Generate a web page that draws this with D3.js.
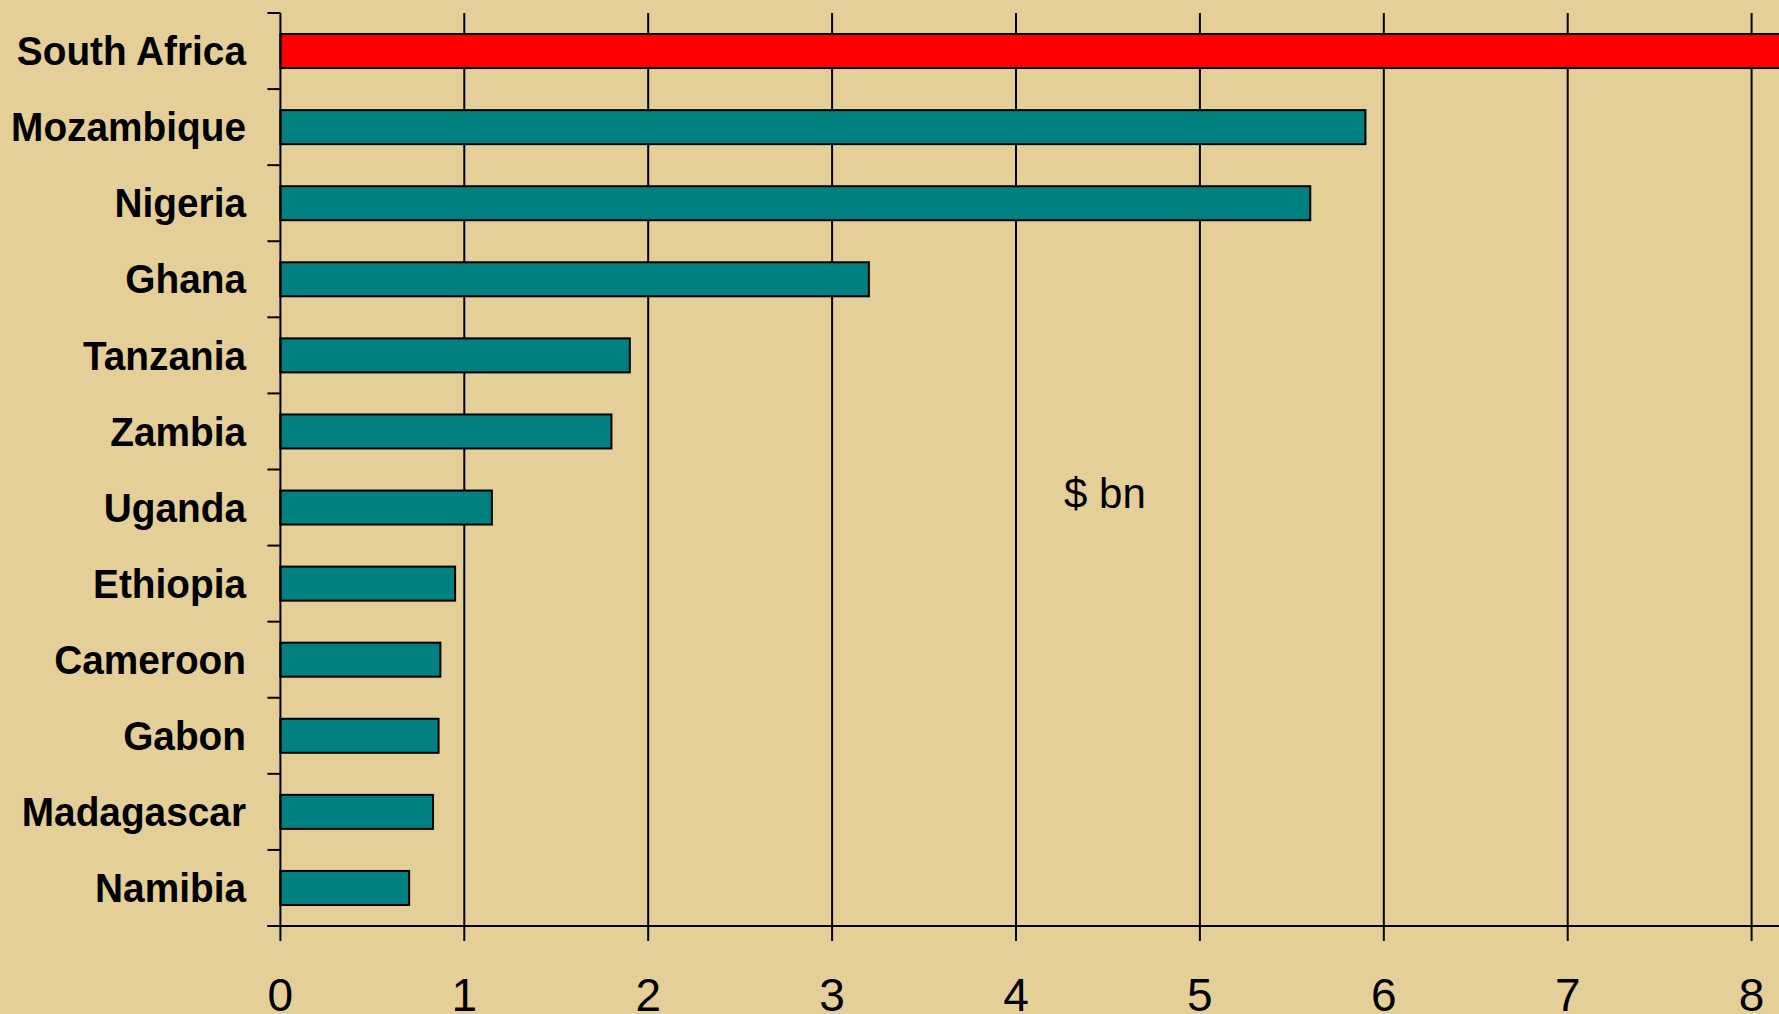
<!DOCTYPE html>
<html>
<head>
<meta charset="utf-8">
<script src="https://cdn.jsdelivr.net/npm/d3@7/dist/d3.min.js"></script>
<style>
  html, body { margin: 0; padding: 0; background: #E5CF99; overflow: hidden; }
  svg { display: block; }
</style>
</head>
<body>
<script>
// ---- data ----
const categories = ["South Africa", "Mozambique", "Nigeria", "Ghana", "Tanzania", "Zambia",
                    "Uganda", "Ethiopia", "Cameroon", "Gabon", "Madagascar", "Namibia"];
const values = [9.0, 5.9, 5.6, 3.2, 1.9, 1.8, 1.15, 0.95, 0.87, 0.86, 0.83, 0.70];
const highlight = ["South Africa"];
const tickValues = [0, 1, 2, 3, 4, 5, 6, 7, 8];
const unitLabel = "$ bn";

// ---- layout ----
const W = 1779, H = 1014;
const x0 = 280.4, unit = 183.9;
const topY = 13, bottomY = 926;

const svg = d3.select("body").append("svg").attr("width", W).attr("height", H);
svg.append("rect").attr("width", W).attr("height", H).attr("fill", "#E5CF99");

const x = d3.scaleLinear().domain([0, 9]).range([x0, x0 + 9 * unit]);
const pad = 0.553;
const y = d3.scaleBand().domain(categories).range([topY, bottomY])
  .paddingInner(pad).paddingOuter(pad / 2);

// gridlines (behind bars)
svg.append("g").selectAll("line").data(tickValues.filter(d => d > 0)).join("line")
  .attr("x1", d => x(d)).attr("x2", d => x(d))
  .attr("y1", topY).attr("y2", bottomY)
  .attr("stroke", "#000").attr("stroke-width", 2);

// bars
svg.append("g").selectAll("rect").data(categories).join("rect")
  .attr("x", x(0))
  .attr("y", d => y(d))
  .attr("width", (d, i) => x(values[i]) - x(0))
  .attr("height", y.bandwidth())
  .attr("fill", d => highlight.includes(d) ? "#FF0000" : "#008080")
  .attr("stroke", "#000").attr("stroke-width", 2);

// y axis line and boundary ticks
const gap = (y.step() - y.bandwidth()) / 2;
const bounds = categories.map(c => y(c) - gap).concat([y(categories[categories.length - 1]) + y.bandwidth() + gap]);
svg.append("line").attr("x1", x(0)).attr("x2", x(0)).attr("y1", topY).attr("y2", bottomY)
  .attr("stroke", "#000").attr("stroke-width", 2);
svg.append("g").selectAll("line").data(bounds).join("line")
  .attr("x1", x(0) - 13).attr("x2", x(0))
  .attr("y1", d => d).attr("y2", d => d)
  .attr("stroke", "#000").attr("stroke-width", 2);

// x axis
svg.append("line").attr("x1", x(0) - 13).attr("x2", W).attr("y1", bottomY).attr("y2", bottomY)
  .attr("stroke", "#000").attr("stroke-width", 2);
svg.append("g").selectAll("line").data(tickValues).join("line")
  .attr("x1", d => x(d)).attr("x2", d => x(d))
  .attr("y1", bottomY).attr("y2", bottomY + 15)
  .attr("stroke", "#000").attr("stroke-width", 2);
svg.append("g").selectAll("text").data(tickValues).join("text")
  .attr("x", d => x(d)).attr("y", 1010.5)
  .attr("text-anchor", "middle")
  .attr("font-family", "'Liberation Sans', Arial, sans-serif")
  .attr("font-size", 46)
  .attr("fill", "#000")
  .text(d => d);

// category labels
svg.append("g").selectAll("text").data(categories).join("text")
  .attr("transform", d => `translate(246,${y(d) + y.bandwidth() / 2 + 14.2}) scale(0.97,1)`)
  .attr("text-anchor", "end")
  .attr("font-family", "'Liberation Sans', Arial, sans-serif")
  .attr("font-weight", "bold")
  .attr("font-size", 40)
  .attr("fill", "#000")
  .text(d => d);

// unit label
svg.append("text").attr("x", 1064).attr("y", 507.5)
  .attr("font-family", "'Liberation Sans', Arial, sans-serif")
  .attr("font-size", 42)
  .attr("fill", "#000")
  .text(unitLabel);
</script>
</body>
</html>
